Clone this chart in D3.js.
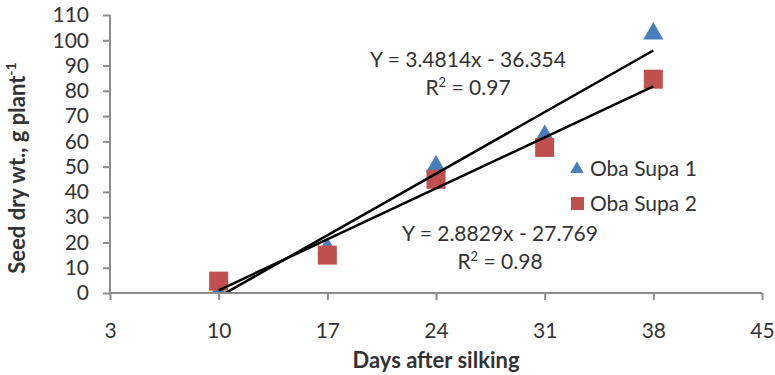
<!doctype html>
<html lang="en">
<head>
  <meta charset="utf-8">
  <title>Seed dry weight</title>
  <style>
    body { margin: 0; background: #fff; }
    svg { display: block; font-family: Lato, "Open Sans", sans-serif; }
    .axis path, .axis line { stroke: #8c8c8c; stroke-width: 2; }
    .axis text { fill: #333; font-size: 21px; }
  </style>
</head>
<body>
<script src="https://cdn.jsdelivr.net/npm/d3@7"></script>
<script>
(function() {

var days = [10, 17, 24, 31, 38];
var obaSupa1 = [0.5, 18, 50.5, 62.5, 103];
var obaSupa2 = [4.7, 15, 45, 57.6, 84.6];
var xTicks = [3, 10, 17, 24, 31, 38, 45];
var yTicks = [0, 10, 20, 30, 40, 50, 60, 70, 80, 90, 100, 110];
var fit1 = { slope: 3.4814, icpt: -36.354, eq: "Y = 3.4814x - 36.354", r2: "0.97" };
var fit2 = { slope: 2.8829, icpt: -27.769, eq: "Y = 2.8829x - 27.769", r2: "0.98" };

var blue = "#4a7ebb", red = "#c0504d";

var svg = d3.select("body").append("svg")
    .attr("width", 775)
    .attr("height", 375);

var x = d3.scaleLinear().domain([3, 45]).range([110, 762]);
var y = d3.scaleLinear().domain([0, 110]).range([293, 15]);

// axes
svg.append("g")
    .attr("class", "axis")
    .attr("transform", "translate(0," + y(0) + ")")
    .call(d3.axisBottom(x).tickValues(xTicks).tickSize(7).tickPadding(23))
    .call(function(g) { g.select(".domain").attr("d", "M" + x(3) + ",0H" + x(45)); });

svg.append("g")
    .attr("class", "axis")
    .attr("transform", "translate(" + x(3) + ",0)")
    .call(d3.axisLeft(y).tickValues(yTicks).tickSize(7).tickPadding(14))
    .call(function(g) { g.select(".domain").attr("d", "M0," + y(0) + "V" + y(110)); });

svg.selectAll(".axis text").attr("font-family", "Lato, sans-serif");

// axis titles
svg.append("text")
    .attr("x", 436).attr("y", 368)
    .attr("text-anchor", "middle")
    .attr("font-size", 22).attr("font-weight", "bold").attr("fill", "#333")
    .text("Days after silking");

var yl = svg.append("text")
    .attr("transform", "translate(25,168) rotate(-90)")
    .attr("text-anchor", "middle")
    .attr("font-size", 22).attr("font-weight", "bold").attr("fill", "#333");
yl.append("tspan").text("Seed dry wt., g plant");
yl.append("tspan").attr("dy", -9).attr("font-size", 14).text("-1");

// clip to plot area
svg.append("clipPath").attr("id", "plot")
  .append("rect").attr("x", x(3)).attr("y", 0).attr("width", x(45) - x(3)).attr("height", y(0) - 1);

var plot = svg.append("g").attr("clip-path", "url(#plot)");

var tri = d3.symbol().type(d3.symbolTriangle).size(175);
var sq = 19;

plot.selectAll(".tri")
    .data(days.map(function(d, i) { return [d, obaSupa1[i]]; }))
  .enter().append("path")
    .attr("class", "tri")
    .attr("d", tri)
    .attr("transform", function(d) { return "translate(" + x(d[0]) + "," + (y(d[1]) + 1) + ")"; })
    .attr("fill", blue);

plot.selectAll(".sq")
    .data(days.map(function(d, i) { return [d, obaSupa2[i]]; }))
  .enter().append("rect")
    .attr("class", "sq")
    .attr("x", function(d) { return x(d[0]) - sq / 2; })
    .attr("y", function(d) { return y(d[1]) - sq / 2; })
    .attr("width", sq).attr("height", sq)
    .attr("fill", red);

// trend lines
[fit1, fit2].forEach(function(f) {
  var x0 = d3.min(days), x1 = d3.max(days);
  plot.append("line")
      .attr("x1", x(x0)).attr("y1", y(f.slope * x0 + f.icpt))
      .attr("x2", x(x1)).attr("y2", y(f.slope * x1 + f.icpt))
      .attr("stroke", "#000").attr("stroke-width", 2.5);
});

// equation labels
function eqLabel(f, cx, cy) {
  svg.append("text")
      .attr("x", cx).attr("y", cy)
      .attr("text-anchor", "middle")
      .attr("font-size", 21).attr("fill", "#333")
      .text(f.eq);
  var r = svg.append("text")
      .attr("x", cx).attr("y", cy + 28)
      .attr("text-anchor", "middle")
      .attr("font-size", 21).attr("fill", "#333");
  r.append("tspan").text("R");
  r.append("tspan").attr("dy", -8).attr("font-size", 13).text("2");
  r.append("tspan").attr("dy", 8).text(" = " + f.r2);
}
eqLabel(fit1, 468, 67);
eqLabel(fit2, 500, 241);

// legend
var legend = svg.append("g");
legend.append("path")
    .attr("d", d3.symbol().type(d3.symbolTriangle).size(80))
    .attr("transform", "translate(577,169)")
    .attr("fill", blue);
legend.append("text")
    .attr("x", 590).attr("y", 176)
    .attr("font-size", 21).attr("fill", "#333")
    .text("Oba Supa 1");
legend.append("rect")
    .attr("x", 571).attr("y", 197).attr("width", 13).attr("height", 13)
    .attr("fill", red);
legend.append("text")
    .attr("x", 590).attr("y", 211)
    .attr("font-size", 21).attr("fill", "#333")
    .text("Oba Supa 2");

})();
</script>
</body>
</html>
